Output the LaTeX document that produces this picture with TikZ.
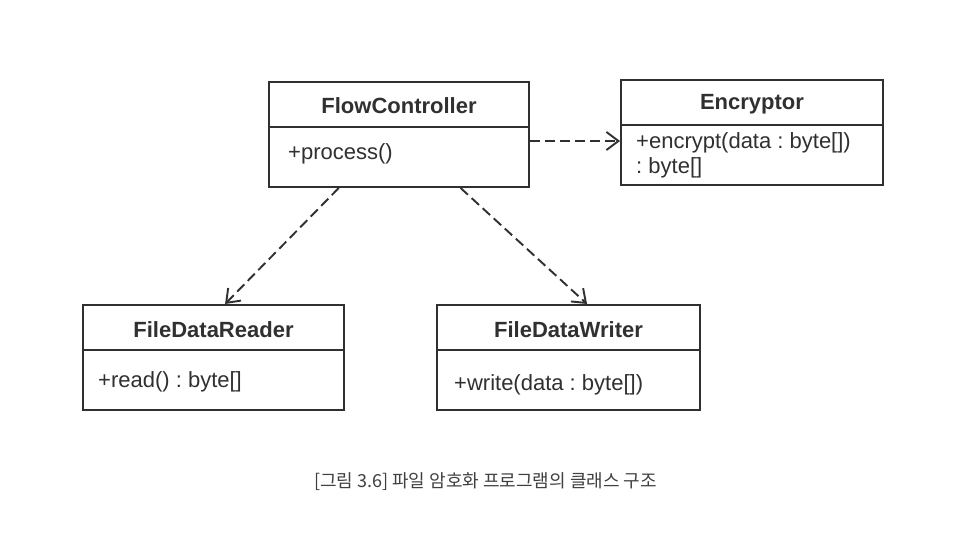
\documentclass[tikz,border=0pt]{standalone}
\usepackage{fontspec}
\setmainfont{Liberation Sans}
\newfontfamily\krfont{Noto Sans CJK KR}
\usetikzlibrary{arrows.meta,calc}
\definecolor{ink}{HTML}{303030}
\definecolor{captink}{HTML}{404040}
\tikzset{
  classbox/.style={draw=ink, line width=2pt, rectangle, inner sep=0pt, anchor=north west},
  divider/.style={draw=ink, line width=2pt},
  titletext/.style={text=ink, inner sep=0pt, anchor=base, font=\fontsize{22}{24}\selectfont\bfseries},
  bodytext/.style={text=ink, inner sep=0pt, anchor=base west, font=\fontsize{22}{24}\selectfont},
  captiontext/.style={text=captink, inner sep=0pt, anchor=base, font=\fontsize{18}{22}\selectfont\krfont},
  dep/.style={draw=ink, line width=1.9pt, dash pattern=on 10pt off 5pt, -{Straight Barb[length=12pt,width=18pt]}},
}
\frenchspacing
\begin{document}
\begin{tikzpicture}[x=1pt,y=-1pt]
\useasboundingbox[fill=white] (0,0) rectangle (960,537);

% FlowController
\node[classbox, minimum width=260pt, minimum height=105pt] (fc) at (268,81) {};
\draw[divider] ($(fc.north west)+(0,46)$) -- ($(fc.north east)+(0,46)$);
\node[titletext] (fc-title) at ($(fc.north)+(0,33)$) {FlowController};
\node[bodytext] (fc-body) at ($(fc.north west)+(20,78.5)$) {+process()};

% Encryptor
\node[classbox, minimum width=262pt, minimum height=105pt] (enc) at (620,79) {};
\draw[divider] ($(enc.north west)+(0,46)$) -- ($(enc.north east)+(0,46)$);
\node[titletext] (enc-title) at ($(enc.north)+(0,31)$) {Encryptor};
\node[bodytext] (enc-body1) at ($(enc.north west)+(16,70)$) {+encrypt(data : byte[])};
\node[bodytext] (enc-body2) at ($(enc.north west)+(16,95)$) {: byte[]};

% FileDataReader
\node[classbox, minimum width=261pt, minimum height=105pt] (rd) at (82,304) {};
\draw[divider] ($(rd.north west)+(0,46)$) -- ($(rd.north east)+(0,46)$);
\node[titletext] (rd-title) at ($(rd.north)+(0,33)$) {FileDataReader};
\node[bodytext] (rd-body) at ($(rd.north west)+(16,83)$) {+read() : byte[]};

% FileDataWriter
\node[classbox, minimum width=263pt, minimum height=105pt] (wr) at (436,304) {};
\draw[divider] ($(wr.north west)+(0,46)$) -- ($(wr.north east)+(0,46)$);
\node[titletext] (wr-title) at ($(wr.north)+(0,33)$) {FileDataWriter};
\node[bodytext] (wr-body) at ($(wr.north west)+(18,86.5)$) {+write(data : byte[])};

% dependencies
\coordinate (fc-e) at ($(fc.north east)+(0,60)$);
\draw[dep] (fc-e) -- (enc.west |- fc-e);
\draw[dep] ($(fc.south west)!0.27!(fc.south east)$) -- ($(rd.north west)!0.544!(rd.north east)$);
\draw[dep] ($(fc.south west)!0.735!(fc.south east)$) -- ($(wr.north west)!0.57!(wr.north east)$);

% caption
\node[captiontext] (cap) at (485.5,487) {[그림 3.6] 파일 암호화 프로그램의 클래스 구조};
\end{tikzpicture}
\end{document}
